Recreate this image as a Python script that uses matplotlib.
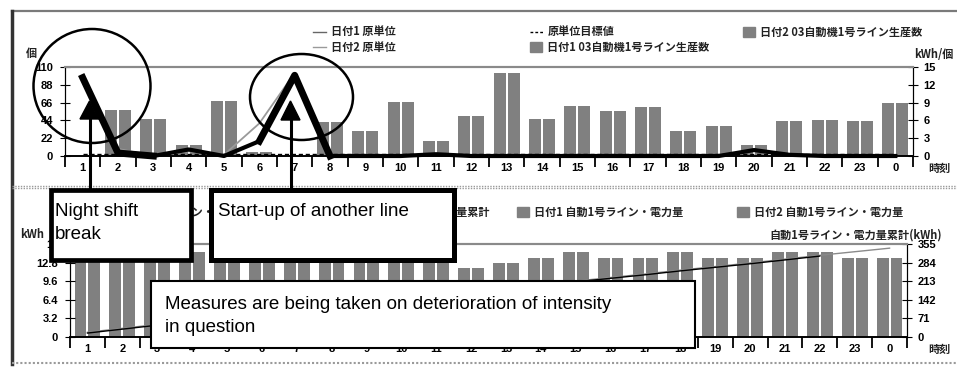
import numpy as np
import matplotlib.pyplot as plt
from matplotlib.patches import Rectangle, Ellipse, Polygon

plt.rcParams['font.family'] = ['Noto Sans CJK JP', 'DejaVu Sans']

hours = ['1', '2', '3', '4', '5', '6', '7', '8', '9', '10', '11', '12',
         '13', '14', '15', '16', '17', '18', '19', '20', '21', '22', '23', '0']

# 原単位 (kWh/個)
unit_day1 = [13.2, 0.5, 0, 1.1, 0, 2.5, 13.6, 0, 0, 0, 0.3, 0,
             0, 0, 0, 0, 0, 0, 0, 1.0, 0.2, 0, 0, 0]
unit_day2 = [13.6, 1.2, 0, 0.8, 0.2, 5.5, 14.0, 0, 0, 0, 0.2, 0,
             0, 0, 0, 0, 0, 0, 0, 0.9, 0.1, 0, 0, 0]
unit_target = [0.3] * 24

# 生産数 (個)
count_day1 = [0, 57, 46, 13, 68, 5, 0, 42, 31, 67, 18, 50,
              102, 46, 62, 56, 60, 31, 37, 13, 43, 44, 43, 65]
count_day2 = [0, 57, 46, 13, 68, 5, 0, 42, 31, 67, 18, 50,
              102, 46, 62, 56, 60, 31, 37, 13, 43, 44, 43, 65]

# 電力量 (kWh)
energy_day1 = [15.0, 15.0, 15.0, 14.7, 14.2, 14.2, 14.2, 14.2, 14.2, 14.2, 12.7, 11.8,
               12.7, 13.6, 14.7, 13.6, 13.6, 14.7, 13.6, 13.6, 14.7, 14.7, 13.6, 13.6]
energy_day2 = [15.0, 15.0, 15.0, 14.7, 14.2, 14.2, 14.2, 14.2, 14.2, 14.2, 12.7, 11.8,
               12.7, 13.6, 14.7, 13.6, 13.6, 14.7, 13.6, 13.6, 14.7, 14.7, 13.6, 13.6]

W, H = 957, 367
GRAY = '#808080'
NUM = dict(fontfamily='Liberation Sans', fontweight='bold', fontsize=8)

fig = plt.figure(figsize=(W / 100, H / 100), dpi=100)


def rect(l, t, r, b):
    return [l / W, 1 - b / H, (r - l) / W, (b - t) / H]


x = np.arange(len(hours))
bw = 0.34


def style(ax, axr, lticks, llabels, rticks):
    ax.set_xlim(-0.5, len(hours) - 0.5)
    ax.set_xticks(x, hours, **NUM)
    ax.set_xticks(np.arange(-0.5, len(hours)), minor=True)
    ax.tick_params(axis='x', which='major', length=0, pad=5)
    ax.tick_params(axis='x', which='minor', length=8, width=1.3, direction='out')
    ax.set_yticks(lticks, llabels, **NUM)
    ax.tick_params(axis='y', direction='inout', length=7, pad=5)
    axr.set_yticks(rticks, [str(t) for t in rticks], **NUM)
    axr.tick_params(axis='y', direction='inout', length=7, pad=4)
    for a in (ax, axr):
        a.spines['top'].set_color('#8a8a8a')
        a.spines['top'].set_linewidth(1.5)
        a.spines['bottom'].set_linewidth(1.2)


# production count and unit consumption
ax1 = fig.add_axes(rect(65, 67, 913, 156))
ax1.bar(x - 0.2, count_day1, bw, color=GRAY)
ax1.bar(x + 0.2, count_day2, bw, color=GRAY)
ax1.set_ylim(0, 110)
ax1r = ax1.twinx()
ax1r.set_ylim(0, 15)
ax1r.plot(x, unit_target, color='black', lw=1, ls=(0, (3, 2)), clip_on=False)
ax1r.plot(x, unit_day2, color='#9a9a9a', lw=1.3, clip_on=False)
ax1r.plot(x, unit_day1, color='black', lw=3, clip_on=False)
# heavier strokes over the night break and the start-up peak
ax1r.plot(x[0:3], unit_day1[0:3], color='black', lw=5, clip_on=False)
ax1r.plot(x[5:8], unit_day1[5:8], color='black', lw=5, clip_on=False)
style(ax1, ax1r, [0, 22, 44, 66, 88, 110], ['0', '22', '44', '66', '88', '110'],
      [0, 3, 6, 9, 12, 15])

# electricity and cumulative total
ax2 = fig.add_axes(rect(70, 244, 907, 337))
ax2.bar(x - 0.2, energy_day1, bw, color=GRAY)
ax2.bar(x + 0.2, energy_day2, bw, color=GRAY)
ax2.set_ylim(0, 16)
ax2r = ax2.twinx()
ax2r.set_ylim(0, 355)
cum1 = np.cumsum(energy_day1)
cum2 = np.cumsum(energy_day2)
ax2r.plot(x, cum2 + 3, color='#8a8a8a', lw=1)
ax2r.plot(x[:22], cum1[:22], color='black', lw=1)
style(ax2, ax2r, [0, 3.2, 6.4, 9.6, 12.8, 16], ['0', '3.2', '6.4', '9.6', '12.8', '16'],
      [0, 71, 142, 213, 284, 355])

# overlay in pixel coordinates for frame, legends and notes
ov = fig.add_axes([0, 0, 1, 1], zorder=5)
ov.set_xlim(0, W)
ov.set_ylim(H, 0)
ov.axis('off')

ov.plot([12, W], [11, 11], color='#7a7a7a', lw=1.6)
ov.plot([12, 12], [11, 364], color='#333333', lw=2.5)
ov.plot([12, W], [186, 186], color='#9a9a9a', lw=1, ls=(0, (1, 1)))
ov.plot([12, W], [188, 188], color='#9a9a9a', lw=1, ls=(0, (1, 1)))
ov.plot([12, W], [363, 363], color='#9a9a9a', lw=1.5, ls=(0, (1, 1)))

JP = dict(fontsize=8, fontweight='bold', va='center', color='#222222')


def line_key(x0, y, text, **kw):
    ov.plot([x0, x0 + 13], [y, y], **kw)
    ov.text(x0 + 18, y, text, **JP)


def bar_key(x0, y, text):
    ov.add_patch(Rectangle((x0, y - 5), 12, 10, color=GRAY))
    ov.text(x0 + 17, y, text, **JP)


line_key(313, 32, '日付1 原単位', color='#666666', lw=1)
line_key(313, 47, '日付2 原単位', color='#9a9a9a', lw=1)
line_key(530, 32, '原単位目標値', color='black', lw=1, ls=(0, (2, 1.5)))
bar_key(530, 47, '日付1 03自動機1号ライン生産数')
bar_key(743, 32, '日付2 03自動機1号ライン生産数')

line_key(80, 212, '日付1 自動1号ライン・電力量累計', color='black', lw=1)
line_key(300, 212, '日付2 自動1号ライン・電力量累計', color='#8a8a8a', lw=1)
bar_key(517, 212, '日付1 自動1号ライン・電力量')
bar_key(737, 212, '日付2 自動1号ライン・電力量')

ov.text(26, 53, '個', **JP)
ov.text(914, 54, 'kWh/個', **JP)
ov.text(928, 168, '時刻', **JP)
ov.text(20, 235, 'kWh', **JP)
ov.text(942, 235, '自動1号ライン・電力量累計(kWh)', ha='right', **JP)
ov.text(928, 349, '時刻', **JP)

# circles around the two events
ov.add_patch(Ellipse((92, 86), 117, 114, fill=False, ec='black', lw=1.8))
ov.add_patch(Ellipse((301.5, 97), 103, 86, fill=False, ec='black', lw=1.8))

# arrows from the notes
for sx, tip, half, base in [(89.5, 101, 9.5, 119), (290.5, 101, 9.5, 120)]:
    ov.plot([sx, sx], [base, 188], color='black', lw=2.2, zorder=6)
    ov.add_patch(Polygon([(sx, tip), (sx - half, base), (sx + half, base)],
                         closed=True, color='black', zorder=6))

EN = dict(fontfamily='Liberation Sans', fontsize=13.5, va='baseline', zorder=12)
ov.add_patch(Rectangle((50.5, 189.5), 140, 70, fc='white', ec='black', lw=3.4, zorder=10))
ov.text(55, 216, 'Night shift', **EN)
ov.text(55, 239, 'break', **EN)
ov.add_patch(Rectangle((211, 189.5), 243, 70, fc='white', ec='black', lw=3.6, zorder=10))
ov.text(218, 216, 'Start-up of another line', **EN)
ov.add_patch(Rectangle((151, 280.5), 544, 67, fc='white', ec='black', lw=1.5, zorder=10))
ov.text(165, 309, 'Measures are being taken on deterioration of intensity', **EN)
ov.text(165, 332, 'in question', **EN)

fig.savefig('out.png', dpi=100)
